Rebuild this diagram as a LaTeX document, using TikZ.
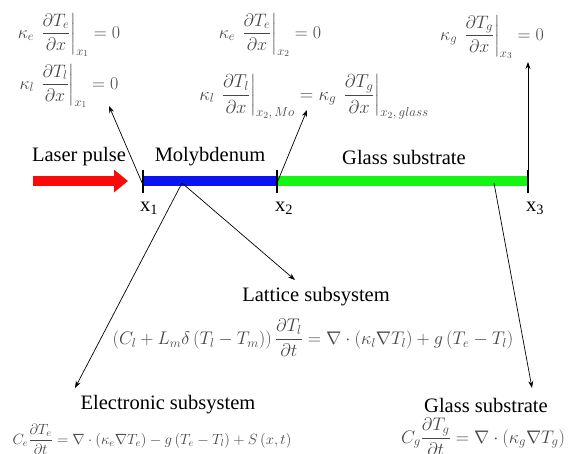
\documentclass[tikz,border=0pt]{standalone}
\usepackage{fix-cm}
\usepackage{amsmath}
\usepackage{fontspec}
\setmainfont{Liberation Serif}
\usetikzlibrary{arrows.meta,positioning}
\definecolor{eqgrey}{RGB}{70,70,70}
\definecolor{laserred}{RGB}{250,10,10}
\definecolor{moblue}{RGB}{10,20,240}
\definecolor{glgreen}{RGB}{20,245,20}

\tikzset{
  lbl/.style={font=\fontsize{20.5}{24}\selectfont,inner sep=1pt},
  eqn/.style={text=eqgrey,font=\fontsize{18}{20}\selectfont,inner sep=0pt},
  pointer/.style={line width=0.7pt,-{Stealth[length=7pt,width=5pt]}},
  tickmark/.style={line width=1.6pt},
}

\begin{document}
\begin{tikzpicture}[x=1pt,y=-1pt]
  \useasboundingbox (0,0) rectangle (568,453);

  % boundary conditions
  \node[eqn] (bcea) at (69,35) {$\kappa_e\,\left.\dfrac{\partial T_e}{\partial x}\right|_{x_1}=0$};
  \node[eqn] (bcla) at (69,86) {$\kappa_l\,\left.\dfrac{\partial T_l}{\partial x}\right|_{x_1}=0$};
  \node[eqn] (bceb) at (270,35) {$\kappa_e\,\left.\dfrac{\partial T_e}{\partial x}\right|_{x_2}=0$};
  \node[eqn,font=\fontsize{18.7}{20}\selectfont] (bclb) at (314,97) {$\kappa_l\,\left.\dfrac{\partial T_l}{\partial x}\right|_{x_2,\,Mo}=\kappa_g\,\left.\dfrac{\partial T_g}{\partial x}\right|_{x_2,\,glass}$};
  \node[eqn] (bcgc) at (492,37) {$\kappa_g\,\left.\dfrac{\partial T_g}{\partial x}\right|_{x_3}=0$};

  % sample
  \draw[laserred,line width=10pt,-{Triangle[length=14pt,width=22pt]}] (33,181) -- (128,181);
  \draw[moblue,line width=10pt] (143,181) -- (277,181);
  \draw[glgreen,line width=10pt] (277,181) -- (528,181);
  \foreach \xx/\nm in {143/one,277/two,528/three}
    \draw[tickmark] (\xx,170) coordinate (top\nm) -- (\xx,193) coordinate (bot\nm);

  \node[lbl] (laser) at (79,157) {Laser pulse};
  \node[lbl] (moly) at (210,157) {Molybdenum};
  \node[lbl] (glass) at (404,157) {Glass substrate};
  \node[lbl] (xa) at (149,208) {x\textsubscript{1}};
  \node[lbl] (xb) at (284,208) {x\textsubscript{2}};
  \node[lbl] (xc) at (535,208) {x\textsubscript{3}};

  % subsystems
  \node[lbl] (latt) at (316,297) {Lattice subsystem};
  \node[eqn,font=\fontsize{18.3}{20}\selectfont] (latteq) at (313,338) {$\left(C_l+L_m\delta\left(T_l-T_m\right)\right)\dfrac{\partial T_l}{\partial t}=\nabla\cdot\left(\kappa_l\nabla T_l\right)+g\left(T_e-T_l\right)$};
  \node[lbl] (elec) at (168,405) {Electronic subsystem};
  \node[eqn,font=\fontsize{14.8}{18}\selectfont] (eleceq) at (152,439) {$C_e\dfrac{\partial T_e}{\partial t}=\nabla\cdot\left(\kappa_e\nabla T_e\right)-g\left(T_e-T_l\right)+S\left(x,t\right)$};
  \node[lbl] (glsub) at (486,405) {Glass substrate};
  \node[eqn,font=\fontsize{18.2}{20}\selectfont] (glsubeq) at (483,437) {$C_g\dfrac{\partial T_g}{\partial t}=\nabla\cdot\left(\kappa_g\nabla T_g\right)$};

  % pointers
  \coordinate (moin) at (182,183);
  \coordinate (glin) at (494,183);
  \coordinate (tipa) at (109,106);
  \coordinate (tipb) at (307,110);
  \coordinate (tipc) at (528,62);
  \coordinate (tipl) at (295,280);
  \coordinate (tipe) at (75,388);
  \coordinate (tipg) at (532,388);
  \draw[pointer] (botone |- 0,185) -- (tipa);
  \draw[pointer] (bottwo |- 0,183) -- (tipb);
  \draw[pointer] (topthree) -- (tipc);
  \draw[pointer] (moin) -- (tipl);
  \draw[pointer] (moin) -- (tipe);
  \draw[pointer] (glin) -- (tipg);
\end{tikzpicture}
\end{document}
